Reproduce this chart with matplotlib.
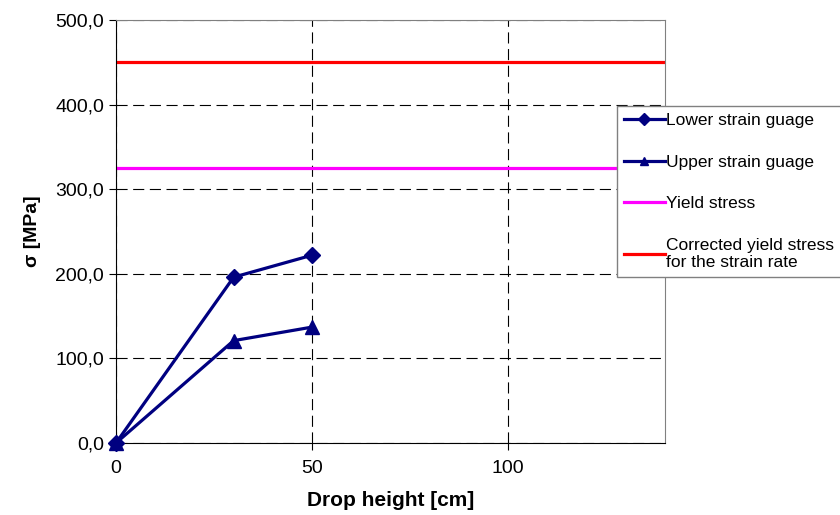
import matplotlib
matplotlib.use("Agg")
import matplotlib.pyplot as plt
from matplotlib.ticker import FuncFormatter

plt.rcParams['font.family'] = ['Liberation Sans', 'DejaVu Sans']

# drop height [cm] and measured stress [MPa]
height = [0, 30, 50]
lower_gauge = [0, 196, 222]
upper_gauge = [0, 121, 137]
yield_stress = 325
corrected_yield = 450
x_max = 140

navy = '#000080'

fig = plt.figure(figsize=(8.4, 5.15), dpi=100)
ax = fig.add_axes([116/840, 1-443/515, (665-116)/840, (443-20)/515])

ax.plot(height, lower_gauge, color=navy, lw=2.3, marker='D', ms=8, label='Lower strain guage', clip_on=False, zorder=5)
ax.plot(height, upper_gauge, color=navy, lw=2.3, marker='^', ms=10, label='Upper strain guage', clip_on=False, zorder=5)
ax.plot([0, x_max], [yield_stress]*2, color='#FF00FF', lw=2.3, label='Yield stress')
ax.plot([0, x_max], [corrected_yield]*2, color='#FF0000', lw=2.3,
        label='Corrected yield stress\nfor the strain rate')

ax.set_xlim(0, x_max)
ax.set_ylim(0, 500)
ax.set_xticks([0, 50, 100])
ax.set_yticks(range(0, 501, 100))
ax.yaxis.set_major_formatter(FuncFormatter(lambda v, p: f"{v:.1f}".replace('.', ',')))
ax.grid(True, color='black', ls=(0, (10, 5)), lw=0.8)
ax.set_axisbelow(True)
ax.tick_params(labelsize=14, colors='black', length=5, direction='out')
ax.tick_params(axis='x', pad=7)
for s in ['top', 'right']:
    ax.spines[s].set_color('#808080')

ax.set_xlabel('Drop height [cm]', fontsize=15, fontweight='bold', labelpad=10)
ax.set_ylabel('σ [MPa]', fontsize=14, fontweight='bold', labelpad=10)

leg = fig.legend(loc='upper left', bbox_to_anchor=(617/840, 1-106/515), fontsize=12.5,
                 frameon=True, fancybox=False, edgecolor='#808080', framealpha=1,
                 labelspacing=1.52, handlelength=2.35, handletextpad=0.1, borderpad=0.4,
                 borderaxespad=0)
leg.get_frame().set_linewidth(1)
for h in leg.get_lines():
    h.set_markersize(6)

fig.savefig('out.png', dpi=100)
